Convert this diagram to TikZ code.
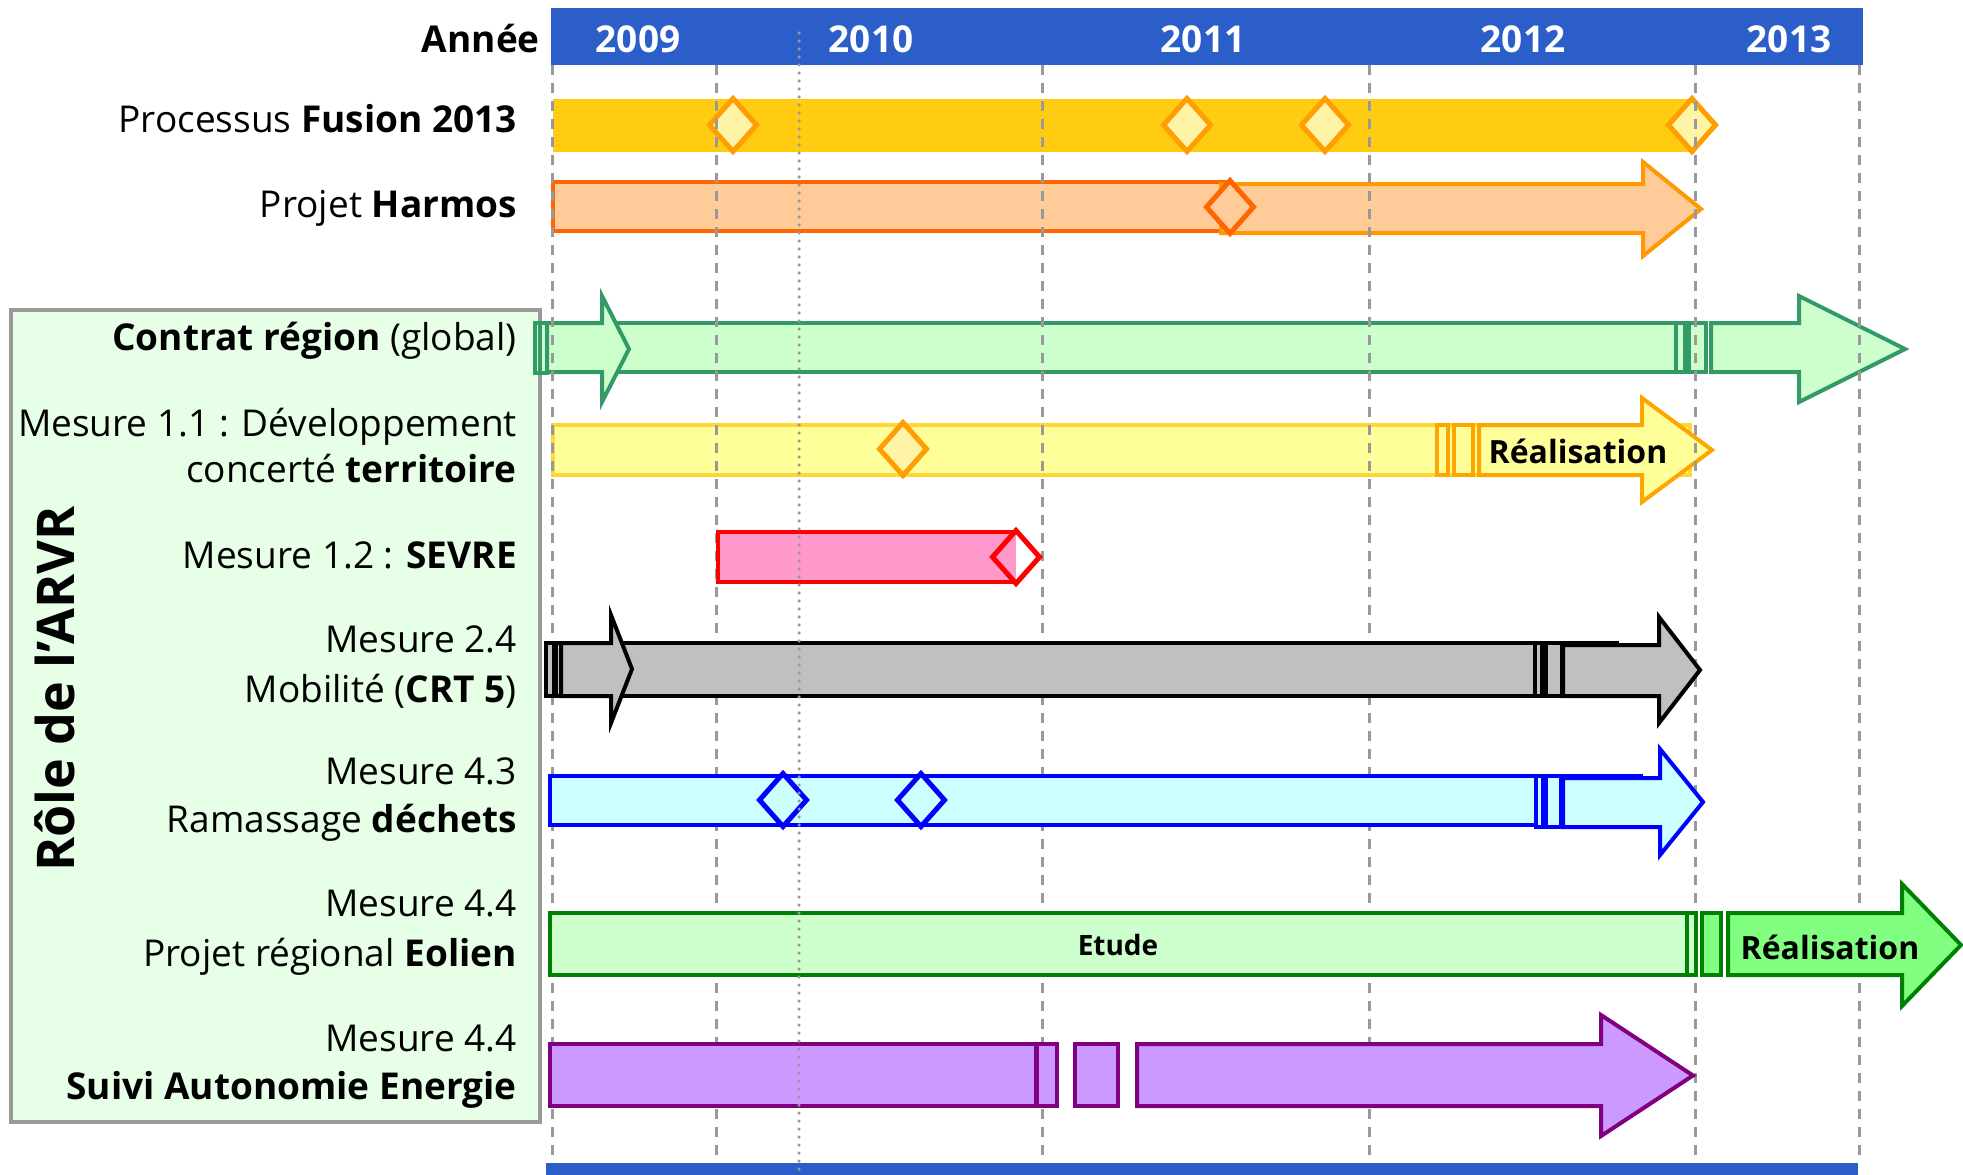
\documentclass[tikz,border=0pt]{standalone}
\usepackage{fontspec}
\setmainfont{Open Sans}
\definecolor{hdr}{HTML}{2B5EC9}
\definecolor{gold}{HTML}{FFCC11}
\definecolor{dmf}{HTML}{FFF3A8}
\definecolor{dmo}{HTML}{FF9E00}
\definecolor{harm}{HTML}{FF6600}
\definecolor{harf}{HTML}{FFCC99}
\definecolor{hara}{HTML}{FF9900}
\definecolor{boxf}{HTML}{E6FFE6}
\definecolor{boxc}{HTML}{999999}
\definecolor{cgr}{HTML}{339966}
\definecolor{cfl}{HTML}{CCFFCC}
\definecolor{ybd}{HTML}{FFD633}
\definecolor{yfl}{HTML}{FFFF99}
\definecolor{yar}{HTML}{FFA500}
\definecolor{pfl}{HTML}{FF99CC}
\definecolor{rbd}{HTML}{FF0000}
\definecolor{gfl}{HTML}{C0C0C0}
\definecolor{cyf}{HTML}{CCFFFF}
\definecolor{bbd}{HTML}{0000FF}
\definecolor{egr}{HTML}{008000}
\definecolor{efl}{HTML}{CCFFCC}
\definecolor{ear}{HTML}{80FF80}
\definecolor{vbd}{HTML}{800080}
\definecolor{vfl}{HTML}{CC99FF}
\definecolor{gridc}{HTML}{999999}
\newcommand{\lblfont}{\fontsize{37}{40}\selectfont}
\newcommand{\hdrfont}{\fontsize{37}{40}\selectfont\bfseries}
\newcommand{\ttlfont}{\fontsize{52}{56}\selectfont\bfseries}
\newcommand{\inbarfont}{\fontsize{32}{36}\selectfont\bfseries}
\newcommand{\etfont}{\fontsize{28}{32}\selectfont\bfseries}
% arrow: #1 style, #2 x0, #3 head base, #4 tip, #5 shaft top, #6 shaft bottom, #7 head top, #8 head bottom
\newcommand{\garw}[8]{\draw[#1] (#2,#5) -- (#3,#5) -- (#3,#7) -- (#4,{(#7+#8)/2}) -- (#3,#8) -- (#3,#6) -- (#2,#6) -- cycle;}
% milestone diamond: #1 style, #2 x, #3 y
\newcommand{\dmd}[3]{\draw[#1] ({#2-23.5},#3) -- (#2,{#3-26.5}) -- ({#2+23.5},#3) -- (#2,{#3+26.5}) -- cycle;}
\begin{document}
\begin{tikzpicture}[x=1pt,y=-1pt,
  lbl/.style={anchor=base east, inner sep=0pt, font=\lblfont},
  yr/.style={anchor=base, inner sep=0pt, font=\hdrfont, text=white},
  ms/.style={line width=5pt},
  gridl/.style={draw=gridc, line width=3pt, dash pattern=on 10pt off 8pt},
  dotl/.style={draw=gridc, line width=3.5pt, line cap=round, dash pattern=on 0pt off 8pt},
  hbar/.style={draw=harm, fill=harf, line width=4pt},
  harr/.style={draw=hara, fill=harf, line width=4pt},
  cbar/.style={draw=cgr, fill=cfl, line width=4pt},
  ybar/.style={draw=ybd, fill=yfl, line width=4pt},
  yarr/.style={draw=yar, fill=yfl, line width=4pt},
  gbar/.style={draw=black, fill=gfl, line width=4pt},
  bbar/.style={draw=bbd, fill=cyf, line width=4pt},
  ebar/.style={draw=egr, fill=efl, line width=4pt},
  earr/.style={draw=egr, fill=ear, line width=4pt},
  vbar/.style={draw=vbd, fill=vfl, line width=4pt}]
\useasboundingbox (0,0) rectangle (1963,1175);
\fill[white] (0,0) rectangle (1963,1175);
% header and bottom bar
\fill[hdr] (551,8) rectangle (1863,65);
\fill[hdr] (546,1163) rectangle (1858,1175);
\node[anchor=base east, inner sep=0pt, font=\hdrfont] (annee) at (540,52) {Année};
\node[yr] (y2009) at (638,52) {2009};
\node[yr] (y2010) at (871,52) {2010};
\node[yr] (y2011) at (1203,52) {2011};
\node[yr] (y2012) at (1523,52) {2012};
\node[yr] (y2013) at (1789,52) {2013};
% left box
\draw[draw=boxc, fill=boxf, line width=4pt] (11,310) rectangle (540,1122);
\node[rotate=90, anchor=base, inner sep=0pt, font=\ttlfont] (role) at (74,689) {Rôle de l'ARVR};
% labels
\node[lbl] (l1) at (517,132) {Processus \textbf{Fusion 2013}};
\node[lbl] (l2) at (517,217) {Projet \textbf{Harmos}};
\node[lbl] (l3) at (517,350) {\textbf{Contrat région} (global)};
\node[lbl] (l4a) at (517,436) {Mesure 1.1 : Développement};
\node[lbl] (l4b) at (517,482) {concerté \textbf{territoire}};
\node[lbl] (l5) at (517,568) {Mesure 1.2 : \textbf{SEVRE}};
\node[lbl] (l6a) at (517,652) {Mesure 2.4};
\node[lbl] (l6b) at (517,702) {Mobilité (\textbf{CRT 5})};
\node[lbl] (l7a) at (517,784) {Mesure 4.3};
\node[lbl] (l7b) at (517,832) {Ramassage \textbf{déchets}};
\node[lbl] (l8a) at (517,916) {Mesure 4.4};
\node[lbl] (l8b) at (517,966) {Projet régional \textbf{Eolien}};
\node[lbl] (l9a) at (517,1051) {Mesure 4.4};
\node[lbl] (l9b) at (517,1099) {\textbf{Suivi Autonomie Energie}};
% row 1: Fusion
\fill[gold] (553,99) rectangle (1695,152);
\dmd{ms, draw=dmo, fill=dmf}{733}{125}
\dmd{ms, draw=dmo, fill=dmf}{1187}{125}
\dmd{ms, draw=dmo, fill=dmf}{1325}{125}
\dmd{ms, draw=dmo, fill=dmf}{1692}{125}
% row 2: Harmos
\draw[hbar] (553,182) rectangle (1230,231);
\garw{harr}{1221}{1643}{1701}{184}{233}{162}{256}
\dmd{ms, draw=harm, fill=harf}{1230}{207}
% row 3: Contrat region
\draw[cbar] (602,323) rectangle (1677,372);
\draw[cbar] (1676,323) rectangle (1685,372);
\draw[cbar] (1689,323) rectangle (1706,372);
\draw[cbar] (535,323) rectangle (540,373);
\draw[cbar] (540,323) rectangle (547,373);
\garw{cbar}{547}{602}{629}{323}{372}{296}{402}
\garw{cbar}{1711}{1799}{1905}{323}{372}{296}{402}
% row 4: Mesure 1.1
\draw[ybar] (553,425) rectangle (1690,475);
\draw[yarr] (1437,425) rectangle (1448,475);
\draw[yarr] (1454,425) rectangle (1473,475);
\garw{yarr}{1479}{1642}{1712}{425}{475}{398}{502}
\node[inner sep=0pt, font=\inbarfont] (real1) at (1578,451) {Réalisation};
\dmd{ms, draw=dmo, fill=dmf}{903}{449}
% grid lines (over the upper rows, under the lower rows)
\foreach \gx in {552,716,1042,1369,1695,1859}
  \draw[gridl] (\gx,65) -- (\gx,1160);
% row 5: SEVRE
\fill[pfl] (718,532) rectangle (1016,582);
\draw[rbd, line width=4pt] (1016,532) -- (718,532) -- (718,582) -- (1016,582);
\dmd{ms, draw=rbd}{1016}{557}
% row 6: Mobilite
\draw[gbar] (611,643) rectangle (1617,696);
\draw[gbar] (546,643) rectangle (554,696);
\draw[gbar] (556,643) rectangle (561,696);
\garw{gbar}{561}{611}{632}{643}{696}{615}{723}
\draw[gbar] (1535,643) rectangle (1542,696);
\draw[gbar] (1546,643) rectangle (1562,696);
\garw{gbar}{1563}{1659}{1700}{645}{696}{617}{723}
% row 7: dechets
\draw[bbar] (550,776) rectangle (1641,825);
\draw[bbar] (1536,776) rectangle (1543,827);
\draw[bbar] (1546,776) rectangle (1561,827);
\garw{bbar}{1563}{1660}{1703}{778}{827}{749}{855}
\dmd{ms, draw=bbd}{783}{800}
\dmd{ms, draw=bbd}{921}{800}
% row 8: Eolien
\draw[ebar] (550,913) rectangle (1687,975);
\draw[ebar] (1687,913) rectangle (1696,975);
\draw[earr] (1702,913) rectangle (1721,975);
\garw{earr}{1728}{1902}{1961}{913}{975}{884}{1006}
\node[inner sep=0pt, font=\etfont] (etude) at (1118,945) {Etude};
\node[inner sep=0pt, font=\inbarfont] (real2) at (1830,947) {Réalisation};
% row 9: Suivi
\draw[vbar] (550,1044) rectangle (1036,1106);
\draw[vbar] (1037,1044) rectangle (1057,1106);
\draw[vbar] (1075,1044) rectangle (1118,1106);
\garw{vbar}{1137}{1601}{1693}{1044}{1106}{1015}{1136}
% dotted line on top
\draw[dotl] (799,33) -- (799,1175);
\end{tikzpicture}
\end{document}
